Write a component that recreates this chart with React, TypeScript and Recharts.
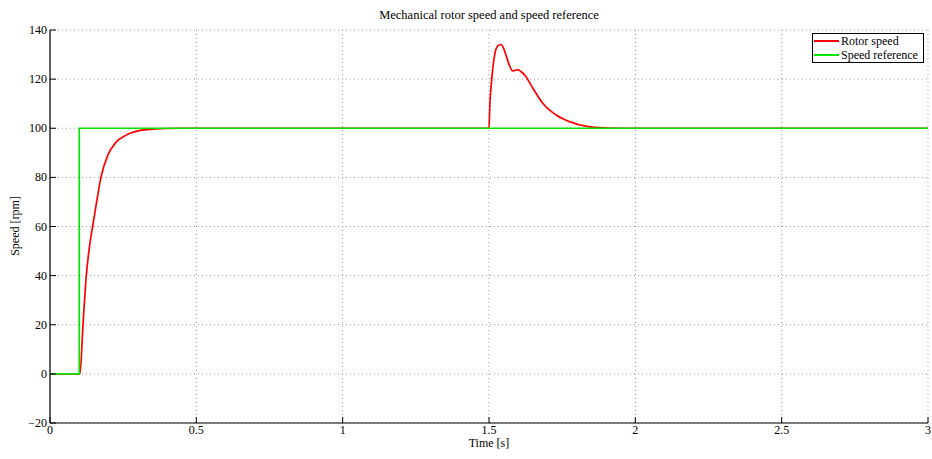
import React from "react";
import { LineChart, Line, XAxis, YAxis, CartesianGrid } from "recharts";

const timeTicks = [0, 0.5, 1, 1.5, 2, 2.5, 3];
const speedTicks = [-20, 0, 20, 40, 60, 80, 100, 120, 140];

const rotorTime = [
  0, 0.1, 0.1025, 0.1127, 0.124, 0.1355, 0.1457, 0.16, 0.174, 0.197, 0.2255, 0.257, 0.305, 0.362, 0.4, 0.45, 0.5,
  1.5, 1.503, 1.509, 1.52, 1.53, 1.541, 1.55, 1.56, 1.57, 1.581, 1.59, 1.598, 1.61, 1.623, 1.651, 1.685, 1.731,
  1.777, 1.834, 1.913, 2.0, 3.0,
];
const rotorSpeed = [
  0, 0, 0, 20, 40, 52.4, 60, 70.5, 80, 88.9, 94.3, 97, 99.0, 99.7, 99.9, 100, 100,
  100, 110, 119.5, 130.4, 133.5, 134.1, 132.5, 129, 125.5, 123.3, 123.6, 123.9, 123, 121.5, 116.1, 110, 105.3,
  102.6, 100.8, 100.1, 100, 100,
];

const refTime = [0, 0.1, 0.1, 3];
const refSpeed = [0, 0, 100, 100];

const rotorData = rotorTime.map((t, i) => ({ t, v: rotorSpeed[i] }));
const refData = refTime.map((t, i) => ({ t, v: refSpeed[i] }));

const FONT = "'Liberation Serif', 'DejaVu Serif', serif";
const RED = "#ff0000";
const GREEN = "#00e600";

const fmt = (v: number) => String(v).replace("-", "\u2212");

const BottomTick = (props: any) => {
  const { x, y, payload } = props;
  return (
    <g>
      <line x1={x} x2={x} y1={y} y2={y - 6} stroke="#000" strokeWidth={1} />
      <text x={x} y={y + 11} textAnchor="middle" fontFamily={FONT} fontSize={12} fill="#000">
        {fmt(payload.value)}
      </text>
    </g>
  );
};
const TopTick = (props: any) => {
  const { x, y } = props;
  return <line x1={x} x2={x} y1={y} y2={y + 6} stroke="#000" strokeWidth={1} />;
};
const LeftTick = (props: any) => {
  const { x, y, payload } = props;
  return (
    <g>
      <line x1={x} x2={x + 6} y1={y} y2={y} stroke="#000" strokeWidth={1} />
      <text x={x - 3} y={y + 4} textAnchor="end" fontFamily={FONT} fontSize={12} fill="#000">
        {fmt(payload.value)}
      </text>
    </g>
  );
};
const RightTick = (props: any) => {
  const { x, y } = props;
  return <line x1={x} x2={x - 6} y1={y} y2={y} stroke="#000" strokeWidth={1} />;
};

export default function App() {
  return (
    <div style={{ position: "absolute", left: 0, top: 0, width: 932, height: 459, background: "#fff" }}>
      <LineChart width={932} height={459} margin={{ top: 30, right: 4, bottom: 0, left: 0 }}>
        <CartesianGrid stroke="#9a9a9a" strokeDasharray="1 3" />
        <XAxis
          dataKey="t"
          type="number"
          domain={[0, 3]}
          ticks={timeTicks}
          height={36}
          tickSize={0}
          tickMargin={0}
          tick={<BottomTick />}
          axisLine={{ stroke: "#000", strokeWidth: 1.2 }}
          allowDuplicatedCategory={false}
        />
        <XAxis
          xAxisId="top"
          orientation="top"
          dataKey="t"
          type="number"
          domain={[0, 3]}
          ticks={timeTicks}
          height={0}
          tickSize={0}
          tickMargin={0}
          tick={<TopTick />}
          axisLine={{ stroke: "#000", strokeWidth: 1.2 }}
        />
        <YAxis
          type="number"
          domain={[-20, 140]}
          ticks={speedTicks}
          width={50}
          tickSize={0}
          tickMargin={0}
          tick={<LeftTick />}
          axisLine={{ stroke: "#000", strokeWidth: 1.2 }}
        />
        <YAxis
          yAxisId="right"
          orientation="right"
          type="number"
          domain={[-20, 140]}
          ticks={speedTicks}
          width={0}
          tickSize={0}
          tickMargin={0}
          tick={<RightTick />}
          axisLine={{ stroke: "#000", strokeWidth: 1.2 }}
        />
        <Line
          data={rotorData}
          dataKey="v"
          type="monotone"
          stroke={RED}
          strokeWidth={1.7}
          dot={false}
          activeDot={false}
          isAnimationActive={false}
          name="Rotor speed"
        />
        <Line
          data={refData}
          dataKey="v"
          type="linear"
          stroke={GREEN}
          strokeWidth={1.7}
          dot={false}
          activeDot={false}
          isAnimationActive={false}
          name="Speed reference"
        />
      </LineChart>
      <div
        style={{
          position: "absolute",
          left: 50,
          width: 878,
          top: 9,
          textAlign: "center",
          fontFamily: FONT,
          fontSize: 12.5,
          color: "#000",
          lineHeight: "13px",
        }}
      >
        Mechanical rotor speed and speed reference
      </div>
      <div
        style={{
          position: "absolute",
          left: 489 - 100,
          width: 200,
          top: 438,
          textAlign: "center",
          fontFamily: FONT,
          fontSize: 12,
          color: "#000",
          lineHeight: "11px",
        }}
      >
        Time [s]
      </div>
      <div
        style={{
          position: "absolute",
          left: 15 - 50,
          top: 226 - 7,
          width: 100,
          textAlign: "center",
          transform: "rotate(-90deg)",
          fontFamily: FONT,
          fontSize: 12,
          color: "#000",
          lineHeight: "14px",
        }}
      >
        Speed [rpm]
      </div>
      <div
        style={{
          position: "absolute",
          left: 812,
          top: 33,
          width: 112,
          height: 30,
          border: "1px solid #000",
          background: "#fff",
          fontFamily: FONT,
          fontSize: 12,
          color: "#000",
          boxSizing: "border-box",
          padding: "0 0 0 1px",
          lineHeight: "14px",
        }}
      >
        {[
          { c: RED, label: "Rotor speed" },
          { c: GREEN, label: "Speed reference" },
        ].map((item) => (
          <div key={item.label} style={{ display: "flex", alignItems: "center", height: 14 }}>
            <span style={{ display: "inline-block", width: 25, height: 0, borderTop: `2px solid ${item.c}`, marginRight: 2 }} />
            <span>{item.label}</span>
          </div>
        ))}
      </div>
    </div>
  );
}
